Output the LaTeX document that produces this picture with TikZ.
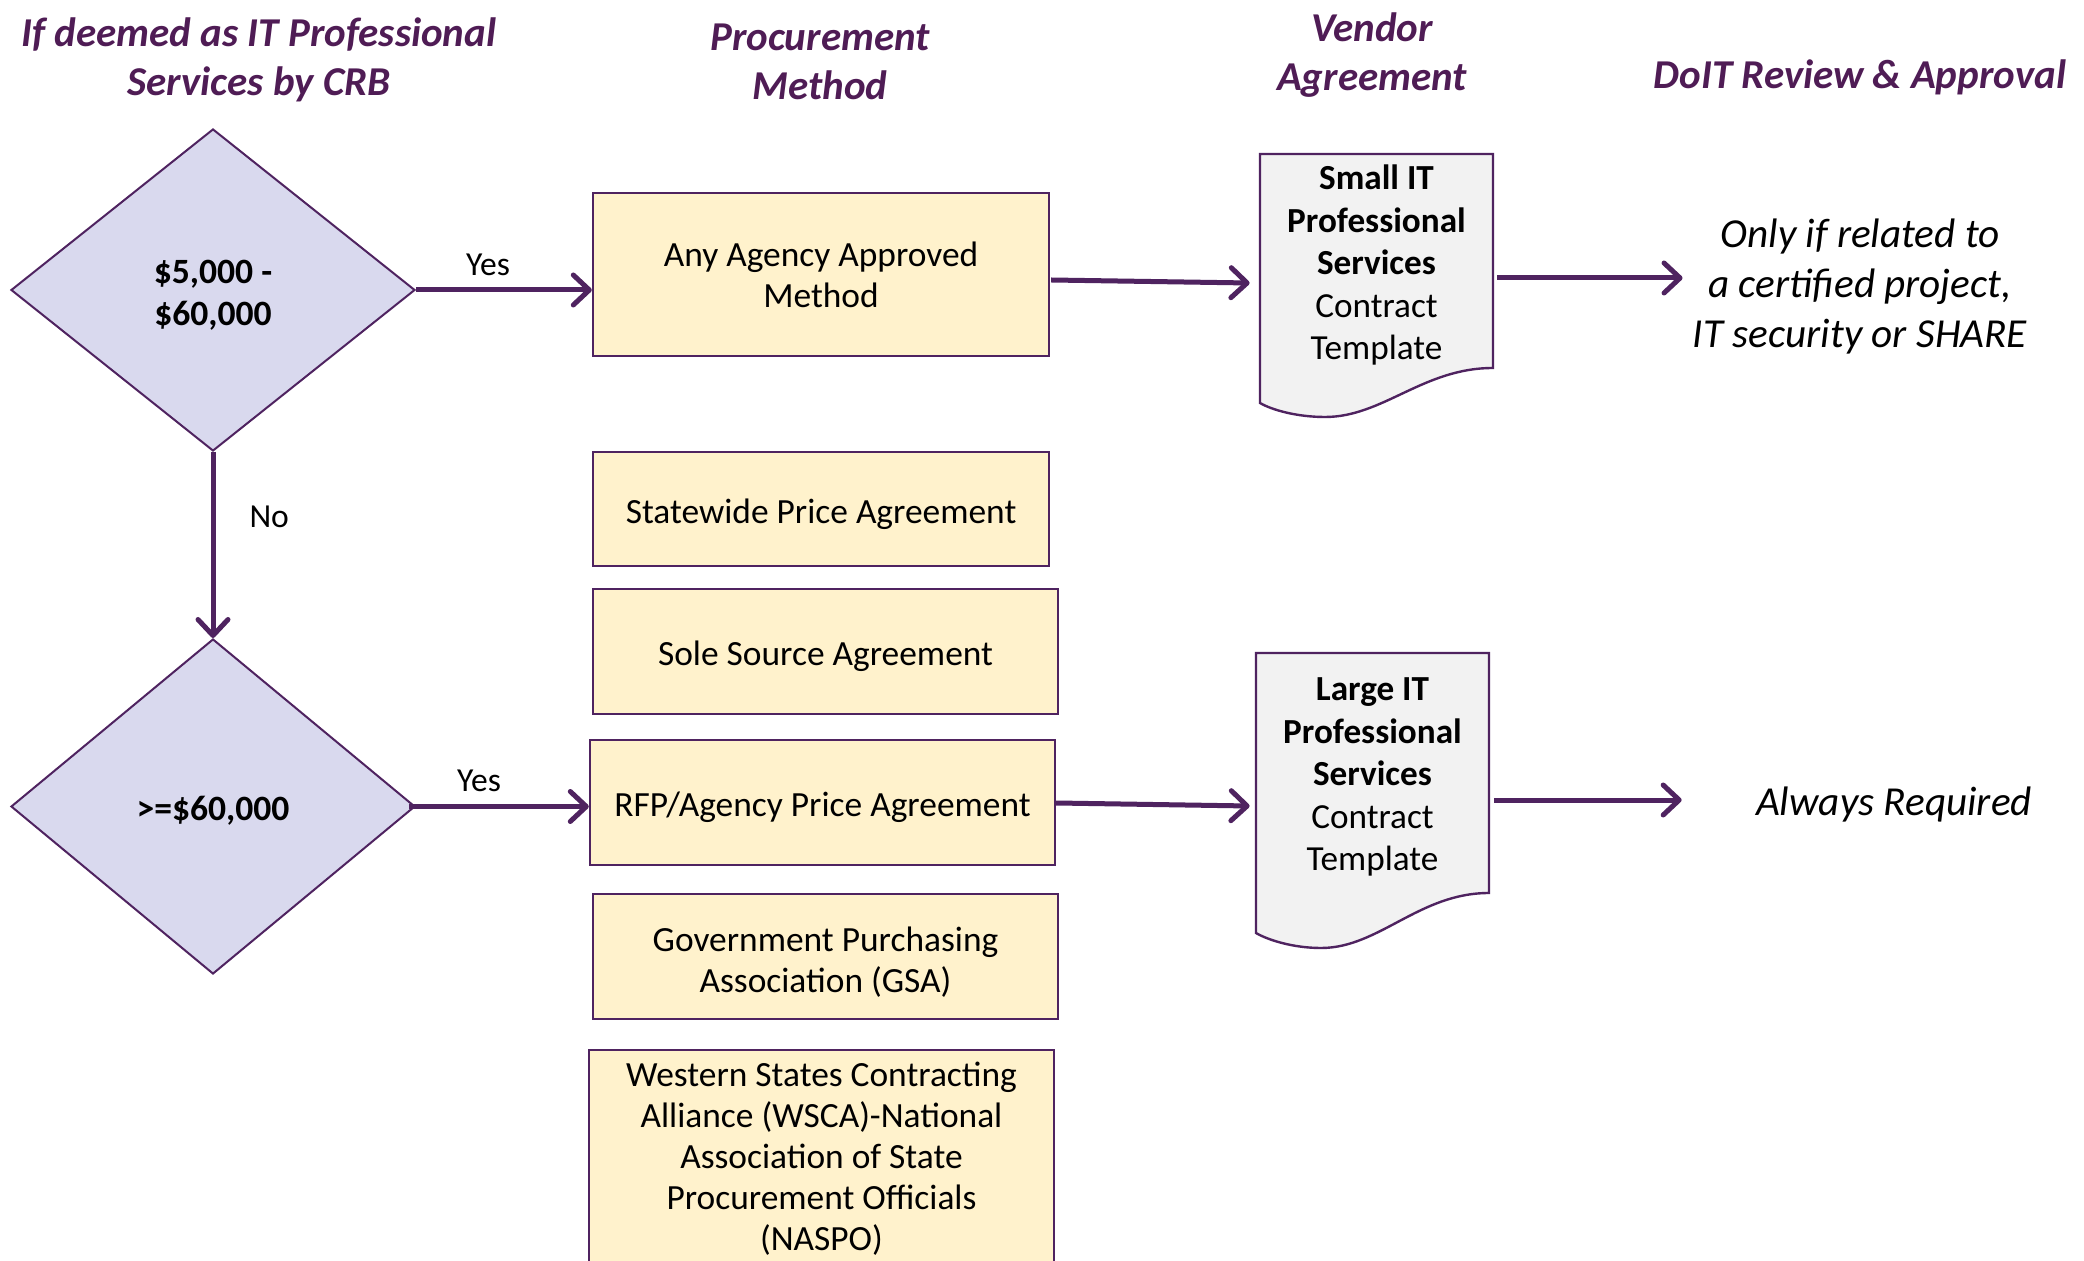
\documentclass[tikz,border=0pt]{standalone}
\usepackage{fontspec}
\setmainfont{Carlito}
\usetikzlibrary{shapes.geometric,arrows.meta,calc}
\definecolor{hdr}{HTML}{4F1C55}
\definecolor{ln}{HTML}{4F2360}
\definecolor{boxfill}{HTML}{FFF2CC}
\definecolor{dfill}{HTML}{D9D9EE}
\definecolor{docfill}{HTML}{F2F2F2}
\newcommand{\lowstrut}{\rule{0pt}{17.5pt}}
\begin{document}
\begin{tikzpicture}[x=0.5pt,y=-0.5pt,
 hdrtext/.style={font=\fontsize{20.5}{24.5}\selectfont\bfseries\itshape, text=hdr, align=center, inner sep=0pt},
 pbox/.style={draw=ln, line width=1.2pt, fill=boxfill, align=center, font=\fontsize{17.7}{20.5}\selectfont, inner sep=0pt},
 dec/.style={diamond, draw=ln, line width=1pt, fill=dfill, align=center, font=\fontsize{17.8}{21}\selectfont\bfseries, inner sep=0pt},
 docshape/.style={draw=ln, line width=1.2pt, fill=docfill},
 doctext/.style={align=center, font=\fontsize{17.6}{21.25}\selectfont, inner sep=0pt},
 arr/.style={draw=ln, line width=2.5pt, -{Straight Barb[length=8pt,width=15pt,round]}},
 lbl/.style={font=\fontsize{16.8}{18}\selectfont, inner sep=0pt},
 note/.style={font=\fontsize{20.6}{25}\selectfont\itshape, align=center, inner sep=2pt}]
\useasboundingbox (0,0) rectangle (2084,1261);
\fill[white] (0,0) rectangle (2084,1261);

% headers
\node[hdrtext] (h1) at (259,60) {If deemed as IT Professional\\Services by CRB};
\node[hdrtext] (h2) at (820,62) {Procurement\\Method};
\node[hdrtext] (h3) at (1372,55) {Vendor\\Agreement};
\node[hdrtext] (h4) at (1860,77) {DoIT Review \& Approval};

% decisions
\node[dec, minimum width=202pt, minimum height=161pt] (d1) at (213,290) {\rule{0pt}{16.5pt}\$5,000 -\\\$60,000};
\node[dec, minimum width=202pt, minimum height=167.5pt] (d2) at (213,806.5) {\rule{0pt}{16pt}>=\$60,000};

% procurement boxes
\node[pbox, minimum width=228pt, minimum height=81.5pt] (b1) at (821,274.5) {Any Agency Approved\\Method};
\node[pbox, minimum width=228pt, minimum height=57pt] (b2) at (821,509) {\lowstrut Statewide Price Agreement};
\node[pbox, minimum width=232.5pt, minimum height=62.5pt] (b3) at (825.5,651.5) {\lowstrut Sole Source Agreement};
\node[pbox, minimum width=232.5pt, minimum height=62.5pt] (b4) at (822.5,802.5) {\lowstrut RFP/Agency Price Agreement};
\node[pbox, minimum width=232.5pt, minimum height=62.5pt] (b5) at (825.5,956.5) {\lowstrut Government Purchasing\\Association (GSA)};
\node[pbox, minimum width=232.5pt, minimum height=108.5pt] (b6) at (821.5,1158.5) {Western States Contracting\\Alliance (WSCA)-National\\Association of State\\Procurement Officials\\(NASPO)};

% document shapes
\draw[docshape] (1260,154) -- (1493,154) -- (1493,368)
  .. controls (1423,368) and (1383,417) .. (1325,417)
  .. controls (1297,417) and (1272,410) .. (1260,403) -- cycle;
\node[doctext, minimum width=116.5pt] (doc1) at (1376.5,265) {\textbf{Small IT}\\\textbf{Professional}\\\textbf{Services}\\Contract\\Template};
\draw[docshape] (1256,653) -- (1489,653) -- (1489,893)
  .. controls (1419,893) and (1379,948) .. (1321,948)
  .. controls (1293,948) and (1268,940) .. (1256,933) -- cycle;
\node[doctext, minimum width=116.5pt] (doc2) at (1372.5,777) {\textbf{Large IT}\\\textbf{Professional}\\\textbf{Services}\\Contract\\Template};

% review notes
\node[note] (r1) at (1860,287) {Only if related to\\a certified project,\\IT security or SHARE};
\node[note] (r2) at (1894,805) {Always Required};

% connectors
\draw[arr] (d1.east) -- (b1.west |- d1.east) node[lbl, pos=0.41, above=6pt] {Yes};
\draw[arr] ($(d2.east)+(-7,0)$) -- (b4.west |- d2.east) node[lbl, pos=0.39, above=6pt] {Yes};
\draw[arr] (d1.south) -- (d2.north) node[lbl, pos=0.35, right=17pt] {No};
\draw[arr] ($(b1.east)+(1,5.5)$) -- ($(doc1.west)+(-10,18)$);
\draw[arr] ($(b4.east)+(0,0.5)$) -- ($(doc2.west)+(-6,29)$);
\draw[arr] ($(doc1.east)+(4,13)$) -- ($(r1.west)+(-6,-9)$);
\draw[arr] ($(doc2.east)+(5,23)$) -- ($(r2.west)+(-70,-5)$);
\end{tikzpicture}
\end{document}
